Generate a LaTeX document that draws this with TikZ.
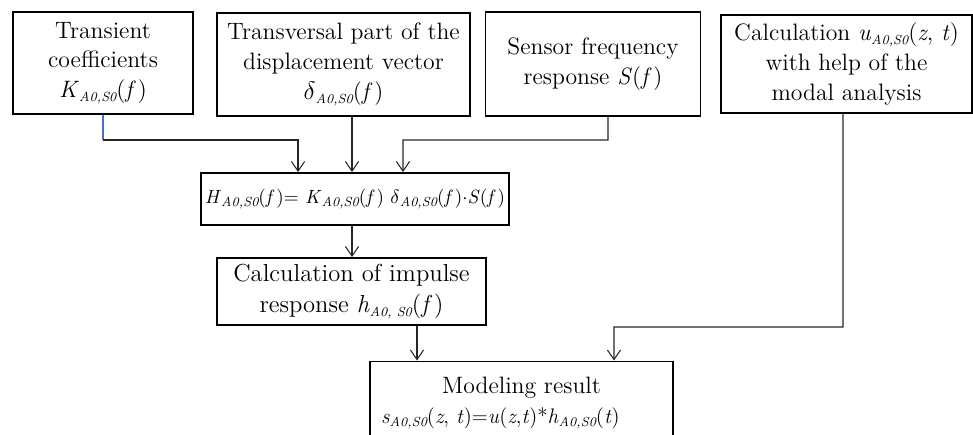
\documentclass[tikz,border=0pt]{standalone}
\usepackage{amsmath, amssymb}
\usepackage{tikz}
\usetikzlibrary{arrows.meta, positioning, calc}
\definecolor{linkblue}{HTML}{4472C4}
% small italic index, set in text as in the drawing
\newcommand{\idx}[1]{\raisebox{-0.35ex}{\fontsize{7.5}{8}\selectfont\itshape #1}}
\newcommand{\ab}{\idx{A0,S0}}
\newcommand{\vi}[1]{\textit{#1}}

\begin{document}
\begin{tikzpicture}[
      x=0.02cm, y=-0.02cm,
      block/.style={draw=black, line width=1.1pt, align=center, inner sep=2pt, font=\fontsize{13.5}{17}\selectfont},
      flow/.style={-{Straight Barb[length=5.5pt, width=7.5pt]}, line width=0.6pt, color=black!85},
  ]
    \useasboundingbox (0,0) rectangle (973,434);

    % inputs
    \node[block, minimum width=3.6cm, minimum height=2.04cm] (coef) at (103,63) {Transient\\coefficients\\\vi{K}\ab(\vi{f}\kern1pt)};
    \node[block, minimum width=5.06cm, minimum height=2.06cm] (disp) at (343.5,64.5) {Transversal part of the\\displacement vector\\$\delta$\ab(\vi{f}\kern1pt)};
    \node[block, minimum width=4.3cm, minimum height=2.08cm] (sens) at (593,64) {Sensor frequency\\response \vi{S}(\vi{f}\kern1pt)};
    \node[block, minimum width=5.02cm, minimum height=1.96cm] (modal) at (846.5,64) {Calculation \vi{u}\ab(\vi{z}, \vi{t})\\with help of the\\modal analysis};

    % processing
    \node[block, minimum width=5.84cm, minimum height=1.04cm, font=\fontsize{10.9}{15}\selectfont] (transfer) at (355,199) {\vi{H}\idx{A0,S0}(\vi{f}\kern1pt)= \vi{K}\ab(\vi{f}\kern1pt) $\delta$\ab(\vi{f}\kern1pt)$\cdot$\vi{S}(\vi{f}\kern1pt)};
    \node[block, minimum width=5.38cm, minimum height=1.34cm, font=\fontsize{14}{18}\selectfont] (impulse) at (351.5,291.5) {Calculation of impulse\\response \vi{h}\idx{A0, S0}(\vi{f}\kern1pt)};
    \node[block, minimum width=6.06cm, minimum height=1.66cm] (result) at (521.5,403) {Modeling result\\{\fontsize{12}{17}\selectfont\vi{s}\ab(\vi{z}, \vi{t})=\vi{u}(\vi{z},\vi{t})*\vi{h}\ab(\vi{t})}\rule{24pt}{0pt}};

    \coordinate (busrow) at (0,140);
    \coordinate (modalrow) at (0,327);

    \draw[line width=0.6pt, linkblue] (coef.south) -- (coef.south |- busrow);
    \draw[flow] (coef.south |- busrow) -| ([xshift=-1.14cm]transfer.north);
    \draw[flow] (disp.south -| 352,0) -- (transfer.north -| 352,0);
    \draw[flow] ([xshift=0.3cm]sens.south) |- (busrow -| 403,0) -- ([xshift=0.96cm]transfer.north);
    \draw[flow] (transfer.south -| 352,0) -- (impulse.north -| 352,0);
    \draw[flow] ([xshift=1.31cm]impulse.south) -- ([xshift=1.31cm]impulse.south |- result.north);
    \draw[flow] ([xshift=-0.07cm]modal.south) |- (modalrow -| 614,0) -- ([xshift=1.85cm]result.north);
  \end{tikzpicture}
\end{document}
